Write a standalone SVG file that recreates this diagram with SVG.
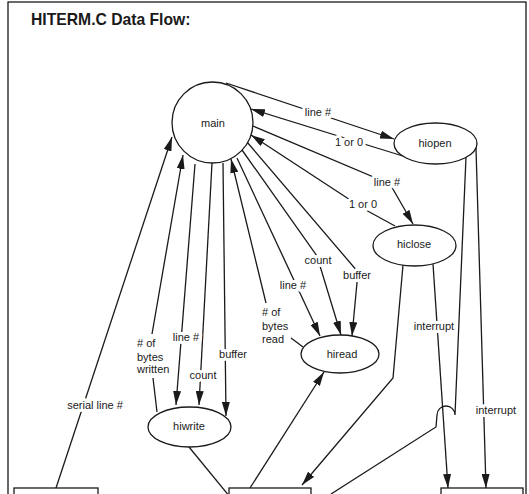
<svg xmlns="http://www.w3.org/2000/svg" width="529" height="494" viewBox="0 0 529 494">
<style>
.ln{fill:none;stroke:#1a1a1a;stroke-width:1.3}
.nd{fill:#fff;stroke:#1a1a1a;stroke-width:1.3}
.t{font-family:"Liberation Sans",Arial,sans-serif;font-size:11px;fill:#1a1a1a;text-anchor:middle}
.lb{font-family:"Liberation Sans",Arial,sans-serif;font-size:11px;fill:#1a1a1a;text-anchor:middle;paint-order:stroke;stroke:#fff;stroke-width:6px;stroke-linejoin:round}
.lbl{text-anchor:start}
.title{font-family:"Liberation Sans",Arial,sans-serif;font-size:15.7px;font-weight:bold;fill:#1a1a1a}
</style>
<defs>
<marker id="ah" viewBox="0 0 14 8" refX="14" refY="4" markerWidth="14" markerHeight="8" orient="auto" markerUnits="userSpaceOnUse">
<path d="M0,0 L14,4 L0,8 z" fill="#1a1a1a"/>
</marker>
</defs>
<rect x="8" y="2" width="518" height="510" fill="#fff" stroke="#1a1a1a" stroke-width="1.3"/>
<text class="title" x="31" y="25">HITERM.C Data Flow:</text>

<g id="connectors">
<path class="ln" d="M226,83 L394,139" marker-end="url(#ah)"/>
<path class="ln" d="M406,157 L251,109" marker-end="url(#ah)"/>
<path class="ln" d="M253,126 L390,184 L413,224" marker-end="url(#ah)"/>
<path class="ln" d="M395,226 L364,209 L251,135" marker-end="url(#ah)"/>
<path class="ln" d="M56,488 L172,137" marker-end="url(#ah)"/>
<path class="ln" d="M157,412 L153,378 M152,334 L183,155" marker-end="url(#ah)"/>
<path class="ln" d="M195,164 L176,405" marker-end="url(#ah)"/>
<path class="ln" d="M212,163 L199,405" marker-end="url(#ah)"/>
<path class="ln" d="M223,163 L226,416" marker-end="url(#ah)"/>
<path class="ln" d="M303,347 L291,338 M266,303 L231,159" marker-end="url(#ah)"/>
<path class="ln" d="M237,158 L320,336" marker-end="url(#ah)"/>
<path class="ln" d="M242,150 L317,256 L341,335" marker-end="url(#ah)"/>
<path class="ln" d="M247,142 L358,272 L352,336" marker-end="url(#ah)"/>
<path class="ln" d="M189,447 L230,497"/>
<path class="ln" d="M250,488 L324,372" marker-end="url(#ah)"/>
<path class="ln" d="M403,265 L393,378 L302,485" marker-end="url(#ah)"/>
<path class="ln" d="M466,157 L455,415 A9,9 0 0 0 437,415 L436,427 L331,494"/>
<path class="ln" d="M433,264 L448,488" marker-end="url(#ah)"/>
<path class="ln" d="M476,148 L486,488" marker-end="url(#ah)"/>
</g>

<g id="labels">
<text class="lb" x="318" y="116">line #</text>
<text class="lb" x="349" y="146">1 or 0</text>
<text class="lb" x="387" y="186">line #</text>
<text class="lb" x="363" y="208">1 or 0</text>
<text class="lb" x="318" y="264">count</text>
<text class="lb" x="357" y="279">buffer</text>
<text class="lb" x="293" y="289">line #</text>
<text class="lb lbl" x="262" y="316">#<tspan> of</tspan></text>
<text class="lb lbl" x="262" y="330">bytes</text>
<text class="lb lbl" x="262" y="343">read</text>
<text class="lb lbl" x="137" y="347"># of</text>
<text class="lb lbl" x="137" y="361">bytes</text>
<text class="lb lbl" x="137" y="373">written</text>
<text class="lb" x="186" y="341">line #</text>
<text class="lb" x="233" y="358">buffer</text>
<text class="lb" x="203" y="379">count</text>
<text class="lb" x="95" y="409">serial line #</text>
<text class="lb" x="434" y="330">interrupt</text>
<text class="lb" x="496" y="414">interrupt</text>
</g>

<g id="main"><circle class="nd" cx="212.5" cy="122.5" r="40.5"/><text class="t" x="213" y="127">main</text></g>
<g id="hiopen"><ellipse class="nd" cx="435.5" cy="143.5" rx="41.5" ry="20.5"/><text class="t" x="435" y="147">hiopen</text></g>
<g id="hiclose"><ellipse class="nd" cx="414.5" cy="245.5" rx="41.5" ry="20.5"/><text class="t" x="414" y="248">hiclose</text></g>
<g id="hiread"><ellipse class="nd" cx="340" cy="354" rx="39" ry="19"/><text class="t" x="342" y="358">hiread</text></g>
<g id="hiwrite"><ellipse class="nd" cx="189.5" cy="427" rx="41.5" ry="20"/><text class="t" x="189" y="430">hiwrite</text></g>
<g id="box-left"><rect class="nd" x="14" y="488" width="84" height="20"/></g>
<g id="box-middle"><rect class="nd" x="229" y="488" width="82" height="20"/></g>
<g id="box-right"><rect class="nd" x="441" y="488" width="82" height="20"/></g>
</svg>
